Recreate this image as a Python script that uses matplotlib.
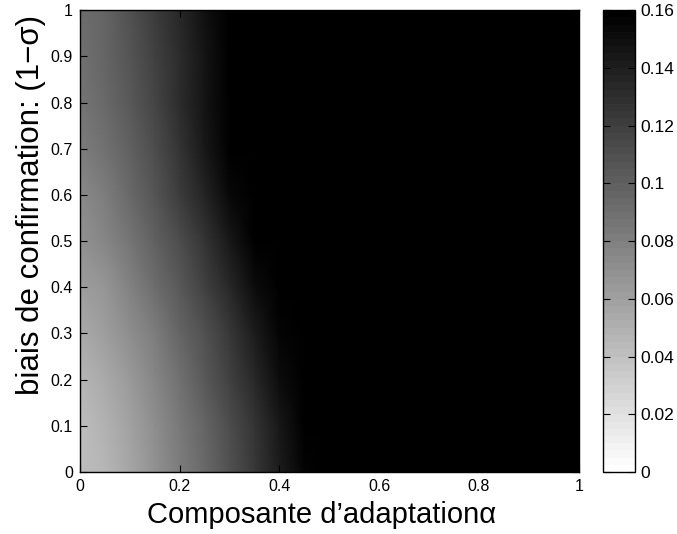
import numpy as np
import matplotlib
matplotlib.use("Agg")
import matplotlib.pyplot as plt
from matplotlib.colors import ListedColormap

plt.rcParams['font.family'] = ['Liberation Sans', 'DejaVu Sans']

# grid (alpha columns, sigma rows)
alpha = [0.0, 0.05, 0.1, 0.15, 0.2, 0.25, 0.3, 0.35, 0.4, 0.45, 0.5, 1.0]
bias = [0.0, 0.1, 0.2, 0.3, 0.4, 0.5, 0.6, 0.7, 0.8, 0.9, 1.0]
values = [
    [0.040, 0.047, 0.056, 0.068, 0.081, 0.094, 0.109, 0.124, 0.140, 0.157, 0.160, 0.160],
    [0.042, 0.049, 0.059, 0.070, 0.083, 0.097, 0.112, 0.127, 0.143, 0.160, 0.160, 0.160],
    [0.047, 0.054, 0.064, 0.076, 0.089, 0.103, 0.118, 0.133, 0.150, 0.160, 0.160, 0.160],
    [0.053, 0.060, 0.070, 0.082, 0.095, 0.109, 0.124, 0.140, 0.157, 0.160, 0.160, 0.160],
    [0.060, 0.067, 0.078, 0.090, 0.103, 0.118, 0.134, 0.150, 0.160, 0.160, 0.160, 0.160],
    [0.068, 0.075, 0.086, 0.099, 0.112, 0.127, 0.143, 0.160, 0.160, 0.160, 0.160, 0.160],
    [0.074, 0.082, 0.093, 0.106, 0.121, 0.136, 0.153, 0.160, 0.160, 0.160, 0.160, 0.160],
    [0.080, 0.088, 0.099, 0.112, 0.127, 0.143, 0.160, 0.160, 0.160, 0.160, 0.160, 0.160],
    [0.085, 0.093, 0.104, 0.117, 0.131, 0.147, 0.160, 0.160, 0.160, 0.160, 0.160, 0.160],
    [0.088, 0.095, 0.106, 0.118, 0.132, 0.147, 0.160, 0.160, 0.160, 0.160, 0.160, 0.160],
    [0.090, 0.097, 0.108, 0.120, 0.134, 0.148, 0.160, 0.160, 0.160, 0.160, 0.160, 0.160],
]
xticks = [0, 0.2, 0.4, 0.6, 0.8, 1]
xticklabels = ['0', '0.2', '0.4', '0.6', '0.8', '1']
yticks = [0, 0.1, 0.2, 0.3, 0.4, 0.5, 0.6, 0.7, 0.8, 0.9, 1]
yticklabels = ['0', '0.1', '0.2', '0.3', '0.4', '0.5', '0.6', '0.7', '0.8', '0.9', '1']
cticks = [0, 0.02, 0.04, 0.06, 0.08, 0.1, 0.12, 0.14, 0.16]
cticklabels = ['0', '0.02', '0.04', '0.06', '0.08', '0.1', '0.12', '0.14', '0.16']

# matlab style flipped gray, 64 levels
cmap = ListedColormap(plt.cm.gray_r(np.linspace(0, 1, 64)))

fig = plt.figure(figsize=(6.77, 5.34), dpi=100)
ax = fig.add_axes([0.118, 0.116, 0.737, 0.865])
cax = fig.add_axes([0.891, 0.116, 0.047, 0.865])

mesh = ax.pcolormesh(alpha, bias, np.array(values), cmap=cmap, vmin=0, vmax=0.16,
                     shading='gouraud')
ax.set_xlim(0, 1)
ax.set_ylim(0, 1)
ax.set_xticks(xticks)
ax.set_xticklabels(xticklabels)
ax.set_yticks(yticks)
ax.set_yticklabels(yticklabels)
ax.tick_params(direction='in', top=True, right=True, length=5, labelsize=11.5, pad=5)
ax.set_xlabel('Composante d\u2019adaptation\u03b1', fontsize=21)
ax.set_ylabel('biais de confirmation: (1\u2212\u03c3)', fontsize=22.5)
ax.xaxis.set_label_coords(0.484, -0.062, transform=ax.transAxes)
ax.yaxis.set_label_coords(-0.098, 0.578, transform=ax.transAxes)
ax.xaxis.label.set_va('top')
ax.yaxis.label.set_va('center')
for s in ax.spines.values():
    s.set_linewidth(1.0)

cb = fig.colorbar(mesh, cax=cax)
cb.set_ticks(cticks)
cb.set_ticklabels(cticklabels)
cax.tick_params(direction='in', left=True, right=True, length=5, labelsize=12.5, pad=4)
cb.outline.set_linewidth(1.0)

fig.savefig('out.png', dpi=100)
